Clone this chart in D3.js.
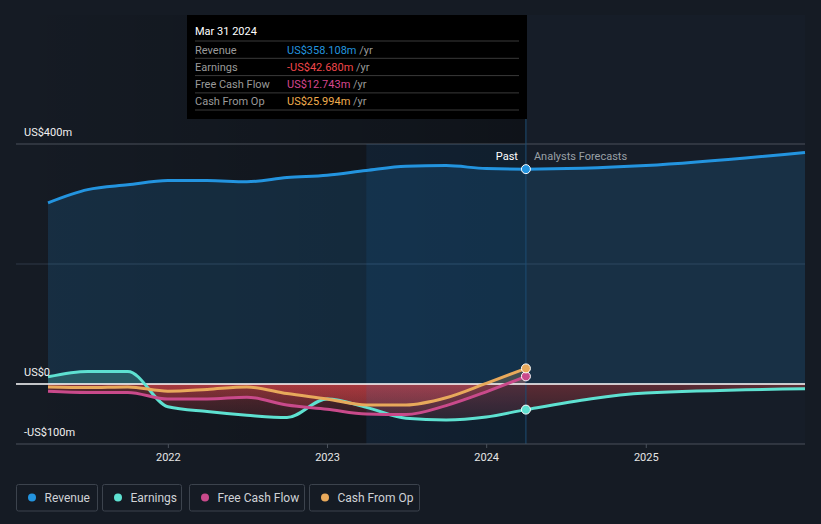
<!doctype html>
<html>
<head>
<meta charset="utf-8">
<title>Revenue and earnings</title>
<script src="https://d3js.org/d3.v7.min.js"></script>
<style>
  body { margin: 0; background: #151b24; font-family: Roboto, "Open Sans", sans-serif; }
  svg { display: block; }
</style>
</head>
<body>
<svg id="chart" width="821" height="524"></svg>
<script>
// quarterly history, then analyst forecasts
var pastDates = ["2021-03-31", "2021-06-30", "2021-09-30", "2021-12-31", "2022-03-31", "2022-06-30",
                 "2022-09-30", "2022-12-31", "2023-03-31", "2023-06-30", "2023-09-30", "2023-12-31", "2024-03-31"];
var revenue  = [302, 324, 332, 339, 339, 337, 344, 348, 356, 363, 364, 359, 358.108];
var earnings = [12, 21, 21, -38, -46, -52, -56, -25, -39, -57, -60, -55, -42.68];
var fcf      = [-12, -14, -14, -25, -25, -22, -35, -42, -50, -51, -36, -13, 12.743];
var cfo      = [-5, -6, -5, -12, -9, -5, -16, -25, -35, -35, -23, 1, 25.994];

var foreDates    = ["2024-03-31", "2024-12-31", "2025-12-31"];
var revenueFore  = [358.108, 364, 386];
var earningsFore = [-42.68, -15, -8];

var yTicks = [400, 0, -100];
var yTickLabels = ["US$400m", "US$0", "-US$100m"];
var xTicks = ["2022-01-01", "2023-01-01", "2024-01-01", "2025-01-01"];

var colors = { revenue: "#2394df", earnings: "#5ee1d1", fcf: "#c94a8b", cfo: "#e8a95b" };

var parse = d3.timeParse("%Y-%m-%d");
function pts(dates, vals) { return dates.map(function (d, i) { return { date: parse(d), v: vals[i] }; }); }

var svg = d3.select("#chart");
var plotLeft = 16, plotRight = 805, plotTop = 144, plotBottom = 444;
var x = d3.scaleTime().domain([parse("2021-03-31"), parse("2025-12-31")]).range([48, plotRight]);
var y = d3.scaleLinear().domain([-100, 400]).range([plotBottom, plotTop]);
var cut = parse("2024-03-31");
var bandStart = parse("2023-03-31");

var defs = svg.append("defs");
var pg = defs.append("linearGradient").attr("id", "pastShade").attr("x1", 0).attr("x2", 1).attr("y1", 0).attr("y2", 0);
pg.append("stop").attr("offset", 0).attr("stop-color", "#000").attr("stop-opacity", 0);
pg.append("stop").attr("offset", 1).attr("stop-color", "#000").attr("stop-opacity", 0.3);
var rg = defs.append("linearGradient").attr("id", "neg").attr("gradientUnits", "userSpaceOnUse")
  .attr("x1", 0).attr("x2", 0).attr("y1", y(0)).attr("y2", y(-100));
rg.append("stop").attr("offset", 0).attr("stop-color", "#e8474b").attr("stop-opacity", 0.55);
rg.append("stop").attr("offset", 1).attr("stop-color", "#e8474b").attr("stop-opacity", 0);
defs.append("clipPath").attr("id", "above").append("rect").attr("x", 0).attr("y", 0).attr("width", 821).attr("height", y(0));
defs.append("clipPath").attr("id", "below").append("rect").attr("x", 0).attr("y", y(0)).attr("width", 821).attr("height", 200);

// background regions
svg.append("rect").attr("x", 0).attr("y", 0).attr("width", 821).attr("height", 524).attr("fill", "#151b24");
svg.append("rect").attr("x", plotLeft).attr("y", 15).attr("width", x(cut) - plotLeft).attr("height", plotBottom - 15)
  .attr("fill", "url(#pastShade)");
svg.append("rect").attr("x", x(cut)).attr("y", 15).attr("width", plotRight - x(cut)).attr("height", plotBottom - 15)
  .attr("fill", "#17202b").attr("opacity", 0.6);

// grid
svg.append("line").attr("x1", plotLeft).attr("x2", plotRight).attr("y1", y(400)).attr("y2", y(400)).attr("stroke", "#4a515b");
svg.append("line").attr("x1", plotLeft).attr("x2", plotRight).attr("y1", y(200)).attr("y2", y(200)).attr("stroke", "#2e3946");

var area = d3.area().x(function (d) { return x(d.date); }).y0(y(0)).y1(function (d) { return y(d.v); }).curve(d3.curveMonotoneX);
var line = d3.line().x(function (d) { return x(d.date); }).y(function (d) { return y(d.v); }).curve(d3.curveMonotoneX);

var revAll = pts(pastDates, revenue).concat(pts(foreDates, revenueFore).slice(1));
svg.append("path").attr("d", area(revAll)).attr("fill", colors.revenue).attr("opacity", 0.16);

var series = [
  { key: "earnings", data: pts(pastDates, earnings).concat(pts(foreDates, earningsFore).slice(1)) },
  { key: "fcf", data: pts(pastDates, fcf) },
  { key: "cfo", data: pts(pastDates, cfo) }
];
series.forEach(function (s) {
  svg.append("path").attr("d", area(s.data)).attr("fill", colors[s.key]).attr("opacity", 0.25).attr("clip-path", "url(#above)");
  svg.append("path").attr("d", area(s.data)).attr("fill", "url(#neg)").attr("opacity", 0.6).attr("clip-path", "url(#below)");
});

// last year highlight band
svg.append("rect").attr("x", x(bandStart)).attr("y", plotTop).attr("width", x(cut) - x(bandStart)).attr("height", plotBottom - plotTop)
  .attr("fill", "#1e88e5").attr("opacity", 0.1);
svg.append("line").attr("x1", x(cut)).attr("x2", x(cut)).attr("y1", 15).attr("y2", plotBottom).attr("stroke", "#1d4d73").attr("stroke-width", 1);

// zero line
svg.append("line").attr("x1", plotLeft).attr("x2", plotRight).attr("y1", y(0)).attr("y2", y(0)).attr("stroke", "#ffffff").attr("stroke-width", 1.3);

// lines
svg.append("path").attr("d", line(revAll)).attr("fill", "none").attr("stroke", colors.revenue).attr("stroke-width", 3);
series.forEach(function (s) {
  svg.append("path").attr("d", line(s.data)).attr("fill", "none").attr("stroke", colors[s.key]).attr("stroke-width", 3);
});

// markers at the cut
[["revenue", revenue], ["earnings", earnings], ["fcf", fcf], ["cfo", cfo]].forEach(function (m) {
  svg.append("circle").attr("cx", x(cut)).attr("cy", y(m[1][m[1].length - 1])).attr("r", 4.5)
    .attr("fill", colors[m[0]]).attr("stroke", "#ffffff").attr("stroke-width", 1);
});

// axes
var xAxis = svg.append("g");
xAxis.append("line").attr("x1", plotLeft).attr("x2", plotRight).attr("y1", plotBottom).attr("y2", plotBottom).attr("stroke", "#4a515b");
xTicks.forEach(function (t) {
  var px = x(parse(t));
  xAxis.append("line").attr("x1", px).attr("x2", px).attr("y1", plotBottom).attr("y2", plotBottom + 4).attr("stroke", "#4a515b");
  xAxis.append("text").attr("x", px).attr("y", 461).attr("text-anchor", "middle").attr("fill", "#e6e6e6")
    .attr("font-size", 11).text(d3.timeFormat("%Y")(parse(t)));
});
yTicks.forEach(function (v, i) {
  svg.append("text").attr("x", 24).attr("y", y(v) - 8).attr("fill", "#f0f0f0").attr("font-size", 11).text(yTickLabels[i]);
});

svg.append("text").attr("x", x(cut) - 8).attr("y", 160).attr("text-anchor", "end").attr("fill", "#ffffff").attr("font-size", 11).text("Past");
svg.append("text").attr("x", x(cut) + 8).attr("y", 160).attr("fill", "#9aa0a6").attr("font-size", 11).text("Analysts Forecasts");

// tooltip
var tipRows = [
  { label: "Revenue", value: "US$358.108m", color: "#2394df" },
  { label: "Earnings", value: "-US$42.680m", color: "#f0474b" },
  { label: "Free Cash Flow", value: "US$12.743m", color: "#d6478f" },
  { label: "Cash From Op", value: "US$25.994m", color: "#f0ad4e" }
];
var tip = svg.append("g");
tip.append("rect").attr("x", 187).attr("y", 15).attr("width", 340).attr("height", 104).attr("fill", "#000000");
tip.append("text").attr("x", 195).attr("y", 35).attr("fill", "#ffffff").attr("font-size", 11).text("Mar 31 2024");
tipRows.forEach(function (r, i) {
  var ry = 41 + i * 17.3;
  tip.append("line").attr("x1", 195).attr("x2", 519).attr("y1", ry).attr("y2", ry).attr("stroke", "#3a3a3a");
  tip.append("text").attr("x", 195).attr("y", ry + 12.5).attr("fill", "#9a9a9a").attr("font-size", 11).text(r.label);
  var t = tip.append("text").attr("x", 287).attr("y", ry + 12.5).attr("font-size", 11);
  t.append("tspan").attr("fill", r.color).text(r.value);
  t.append("tspan").attr("fill", "#9a9a9a").text(" /yr");
});
tip.append("line").attr("x1", 195).attr("x2", 519).attr("y1", 110).attr("y2", 110).attr("stroke", "#3a3a3a");

// legend
var legend = [
  { label: "Revenue", key: "revenue", x: 16.5, w: 81 },
  { label: "Earnings", key: "earnings", x: 102.5, w: 79 },
  { label: "Free Cash Flow", key: "fcf", x: 189.5, w: 115 },
  { label: "Cash From Op", key: "cfo", x: 309.5, w: 110 }
];
legend.forEach(function (l) {
  var g = svg.append("g").attr("transform", "translate(" + l.x + ",484.5)");
  g.append("rect").attr("width", l.w).attr("height", 26.5).attr("rx", 2).attr("fill", "none").attr("stroke", "#3c434d");
  g.append("circle").attr("cx", 15.5).attr("cy", 13).attr("r", 4).attr("fill", colors[l.key]);
  g.append("text").attr("x", 28).attr("y", 17).attr("fill", "#cfd2d6").attr("font-size", 12).text(l.label);
});
</script>
</body>
</html>
